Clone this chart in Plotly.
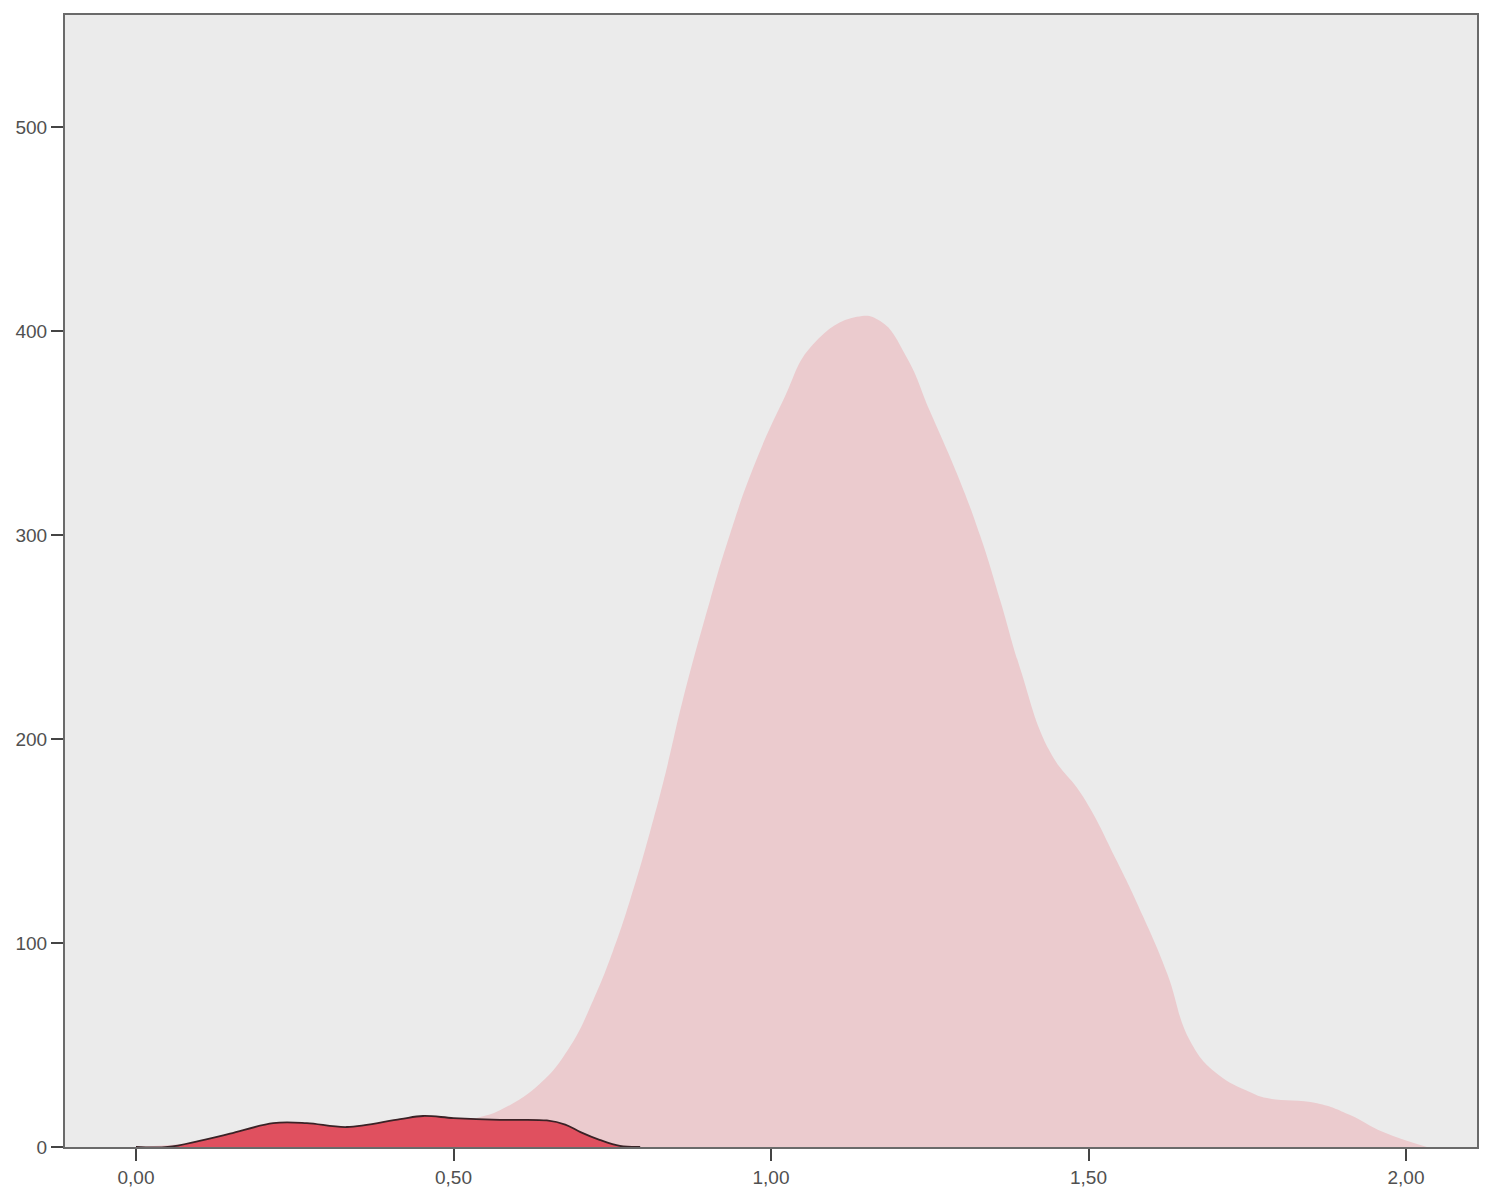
import plotly.graph_objects as go

# Light pink density (large group)
pink_x = [0.00, 0.10, 0.20, 0.30, 0.40, 0.50, 0.542, 0.573, 0.636, 0.683, 0.720, 0.751, 0.778,
          0.809, 0.836, 0.861, 0.904, 0.935, 0.972, 1.019, 1.066, 1.135, 1.172, 1.214,
          1.250, 1.293, 1.329, 1.361, 1.392, 1.439, 1.491, 1.545, 1.586, 1.624, 1.660,
          1.702, 1.754, 1.781, 1.860, 1.912, 1.964, 2.033]
pink_y = [0.0, 2.5, 7.5, 8.5, 10.5, 12.5, 14.7, 18.0, 31.0, 49.0, 72.0, 96.0, 121.0,
          154.0, 186.0, 219.0, 268.0, 300.0, 333.0, 366.0, 393.5, 407.0, 405.0, 387.0,
          361.0, 330.0, 300.0, 268.0, 235.0, 194.0, 172.0, 140.0, 113.0, 85.0, 52.0,
          36.0, 27.0, 24.0, 21.5, 15.7, 7.3, 0.0]

# Red density (small group)
red_x = [0.00, 0.050, 0.10, 0.148, 0.216, 0.269, 0.332, 0.416, 0.452, 0.500, 0.573, 0.647,
         0.676, 0.700, 0.730, 0.762, 0.794]
red_y = [0.0, 0.0, 3.0, 6.5, 11.7, 11.7, 9.8, 13.7, 15.2, 14.2, 13.3, 13.0,
         11.0, 7.3, 3.5, 0.5, 0.0]

x_tickvals = [0.0, 0.5, 1.0, 1.5, 2.0]
x_ticktext = ["0,00", "0,50", "1,00", "1,50", "2,00"]
y_tickvals = [0, 100, 200, 300, 400, 500]
y_ticktext = ["0", "100", "200", "300", "400", "500"]

fig = go.Figure()
fig.add_trace(go.Scatter(
    x=pink_x, y=pink_y, mode="lines",
    line=dict(width=0, shape="spline", smoothing=1.3, color="#EBCBCE"),
    fill="tozeroy", fillcolor="#EBCBCE", hoverinfo="skip", showlegend=False))
fig.add_trace(go.Scatter(
    x=red_x, y=red_y, mode="lines",
    line=dict(width=1.8, shape="spline", color="#3a2226"),
    fill="tozeroy", fillcolor="#E0505F", hoverinfo="skip", showlegend=False))

axis_common = dict(showgrid=False, zeroline=False, showline=True, linecolor="#6a6a6a",
                   linewidth=2, mirror=True, ticks="outside", ticklen=12, tickwidth=2,
                   tickcolor="#444444",
                   tickfont=dict(family="Liberation Sans, Arial, sans-serif", size=19,
                                 color="#505050"))

fig.update_xaxes(range=[-0.1118, 2.1118], tickvals=x_tickvals, ticktext=x_ticktext,
                 **axis_common)
fig.update_yaxes(range=[0, 555], tickvals=y_tickvals, ticktext=y_ticktext, **axis_common)

fig.update_layout(
    width=1485, height=1192,
    margin=dict(l=57, r=16, t=5, b=53),
    plot_bgcolor="#EBEBEB", paper_bgcolor="white",
)

fig.write_html("out.html")
